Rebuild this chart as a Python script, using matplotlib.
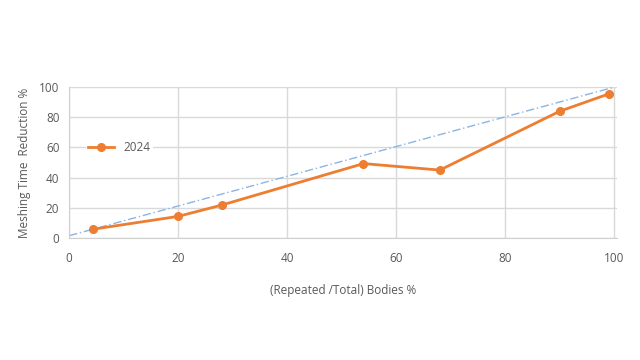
import matplotlib
matplotlib.use("Agg")
import matplotlib.pyplot as plt

x_vals = [4.4, 20, 28, 54, 68, 90, 99]
y_vals = [5.8, 14.3, 21.8, 49.3, 45.0, 84.0, 95.5]
ref_x = [0, 100]
ref_y = [1.5, 100]
xticks = [0, 20, 40, 60, 80, 100]
yticks = [0, 20, 40, 60, 80, 100]

plt.rcParams['font.family'] = ['Open Sans', 'DejaVu Sans']
fig = plt.figure(figsize=(6.4, 3.6), dpi=100)
ax = fig.add_axes([0.108, 0.339, 0.856, 0.419])
ax.set_xlim(0, 100.5)
ax.set_ylim(0, 100)
ax.set_xticks(xticks)
ax.set_yticks(yticks)
ax.grid(True, color='#d9d9d9', linewidth=1)
ax.set_axisbelow(True)
for s in ['top', 'right']:
    ax.spines[s].set_visible(False)
for s in ['left', 'bottom']:
    ax.spines[s].set_color('#d0d0d0')
ax.tick_params(axis='y', length=0, labelsize=8.5, colors='#595959', pad=7)
ax.tick_params(axis='x', length=0, labelsize=8.5, colors='#595959', pad=10)

ax.plot(ref_x, ref_y, color='#8db4e2', linestyle=(0, (6, 2, 1, 2)), linewidth=1)
ax.plot(x_vals, y_vals, color='#ed7d31', linewidth=2, marker='o', markersize=5.5, label='2024')

leg = ax.legend(loc='upper left', bbox_to_anchor=(0.02, 0.70), frameon=True, fontsize=8.5,
                handlelength=2.2, borderpad=0.2, labelcolor='#595959')
leg.get_frame().set_facecolor('white')
leg.get_frame().set_edgecolor('none')
leg.get_frame().set_alpha(1)

ax.set_xlabel('(Repeated /Total) Bodies %', fontsize=8.5, color='#595959', labelpad=14)
ax.set_ylabel('Meshing Time  Reduction %', fontsize=8.5, color='#595959', labelpad=6)

fig.savefig('out.png', dpi=100)
